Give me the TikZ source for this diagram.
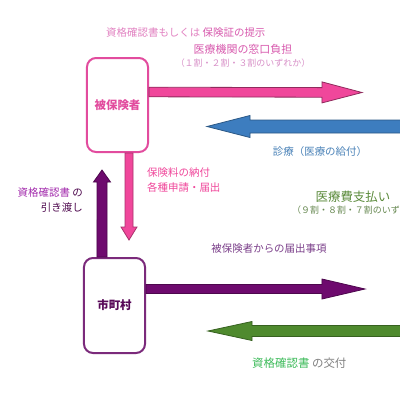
\documentclass[tikz,border=0pt]{standalone}
\usepackage{fontspec}
\usepackage{xcolor}
\usetikzlibrary{calc}
\newfontfamily\jp{Noto Sans CJK JP}

\definecolor{boxpink}{HTML}{E24C9E}
\definecolor{boxpurple}{HTML}{7B2A7B}
\definecolor{arrpink}{HTML}{F0479B}
\definecolor{arrblue}{HTML}{3D7DBF}
\definecolor{arrpurple}{HTML}{6E0A6E}
\definecolor{arrgreen}{HTML}{4F8A2E}
\definecolor{txtpink}{HTML}{D85AAE}
\definecolor{txtlight}{HTML}{D890C8}
\definecolor{txtblue}{HTML}{4A82B8}
\definecolor{txtpurple}{HTML}{7B3F8A}
\definecolor{txtgreen}{HTML}{5A8A3A}
\definecolor{txtmint}{HTML}{3DBB5A}

% block arrow: start, end, shaft half width, head half width, head length, style
\newcommand{\blockarrow}[6]{%
  \coordinate (ba-base) at ($(#2)!#5!(#1)$);
  \filldraw[#6] ($(#1)!#3!90:(#2)$) -- ($(ba-base)!#3!90:(#2)$) -- ($(ba-base)!#4!90:(#2)$)
    -- (#2) -- ($(ba-base)!#4!-90:(#2)$) -- ($(ba-base)!#3!-90:(#2)$) -- ($(#1)!#3!-90:(#2)$) -- cycle;
}

\tikzset{
  party/.style={draw, line width=2bp, rounded corners=9bp, fill=white, minimum width=61bp, font=\jp\bfseries\fontsize{11.5}{12}\selectfont},
  lbl/.style={inner sep=0pt, font=\jp\fontsize{10.5}{12}\selectfont},
  small/.style={inner sep=0pt, font=\jp\fontsize{9}{11}\selectfont},
  blk/.style={line width=0.8bp, line join=miter}
}

\begin{document}
\begin{tikzpicture}[x=1bp, y=-1bp]
	\useasboundingbox (0,0) rectangle (400,400);
	\clip (0,0) rectangle (400,400);
	\fill[white] (0,0) rectangle (400,400);
	% parties
	\node[party, draw=boxpink, text=boxpink, minimum height=94bp] (hih) at (117.5,105) {被保険者};
	\node[party, draw=boxpurple, text=arrpurple!80!black, minimum height=95bp] (shi) at (114.5,305.5) {市町村};
	% arrows
	\coordinate (p0) at ([yshift=13bp]hih.east);
	\coordinate (p1) at (362,92.5);
	\coordinate (b0) at (405,126.5);
	\coordinate (b1) at (207,126.5);
	\coordinate (d0) at ([xshift=11.5bp]hih.south);
	\coordinate (d1) at (129,240);
	\coordinate (u0) at ([xshift=-12.5bp]shi.north);
	\coordinate (u1) at (102,170);
	\coordinate (m0) at ([yshift=16.5bp]shi.east);
	\coordinate (m1) at (365,289);
	\coordinate (g0) at (405,331);
	\coordinate (g1) at (208,331);
	\blockarrow{p0}{p1}{4.8bp}{10.5bp}{40bp}{blk, fill=arrpink, draw=arrpink!60!black}
	\blockarrow{b0}{b1}{6.5bp}{11bp}{43bp}{blk, fill=arrblue, draw=arrblue!70!black}
	\blockarrow{d0}{d1}{4bp}{8bp}{13bp}{blk, fill=arrpink, draw=arrpink!70!black}
	\blockarrow{u0}{u1}{5bp}{8.5bp}{12bp}{blk, fill=arrpurple, draw=arrpurple!70!black}
	\blockarrow{m0}{m1}{4.5bp}{10bp}{43bp}{blk, fill=arrpurple, draw=arrpurple!70!black}
	\blockarrow{g0}{g1}{5.5bp}{9.5bp}{44bp}{blk, fill=arrgreen, draw=arrgreen!70!black}
	% labels
	\node[lbl, anchor=west, text=txtpink!75!white] (top1) at (106,33) {資格確認書もしくは \textcolor{txtpink}{保険証の提示}};
	\node[lbl, text=txtpink, font=\jp\fontsize{11}{12}\selectfont] (top2) at (243,49) {医療機関の窓口負担};
	\node[small, text=txtlight] (top3) at (243,63) {（１割・２割・３割のいずれか）};
	\node[lbl, text=txtblue] (care) at (320,152) {診療（医療の給付）};
	\node[lbl, anchor=west, text=arrpink] (pay1) at (147,173) {保険料の納付};
	\node[lbl, anchor=west, text=arrpink] (pay2) at (147,187) {各種申請・届出};
	\node[lbl, anchor=east, text=arrpurple!70!black] (give1) at (83,193) {\textcolor{txtpurple!70!magenta}{資格確認書} の};
	\node[lbl, anchor=east, text=arrpurple!70!black] (give2) at (83,208) {引き渡し};
	\node[lbl, text=txtgreen, font=\jp\fontsize{12.5}{14}\selectfont] (cost1) at (353,197) {医療費支払い};
	\node[small, anchor=west, text=txtgreen!70!gray] (cost2) at (292,210) {（９割・８割・７割のいずれか）};
	\node[lbl, text=txtpurple] (rep) at (269,249) {被保険者からの届出事項};
	\node[lbl, anchor=west, text=gray, font=\jp\fontsize{11.5}{13}\selectfont] (iss) at (252,363) {\textcolor{txtmint}{資格確認書} の交付};
\end{tikzpicture}
\end{document}
